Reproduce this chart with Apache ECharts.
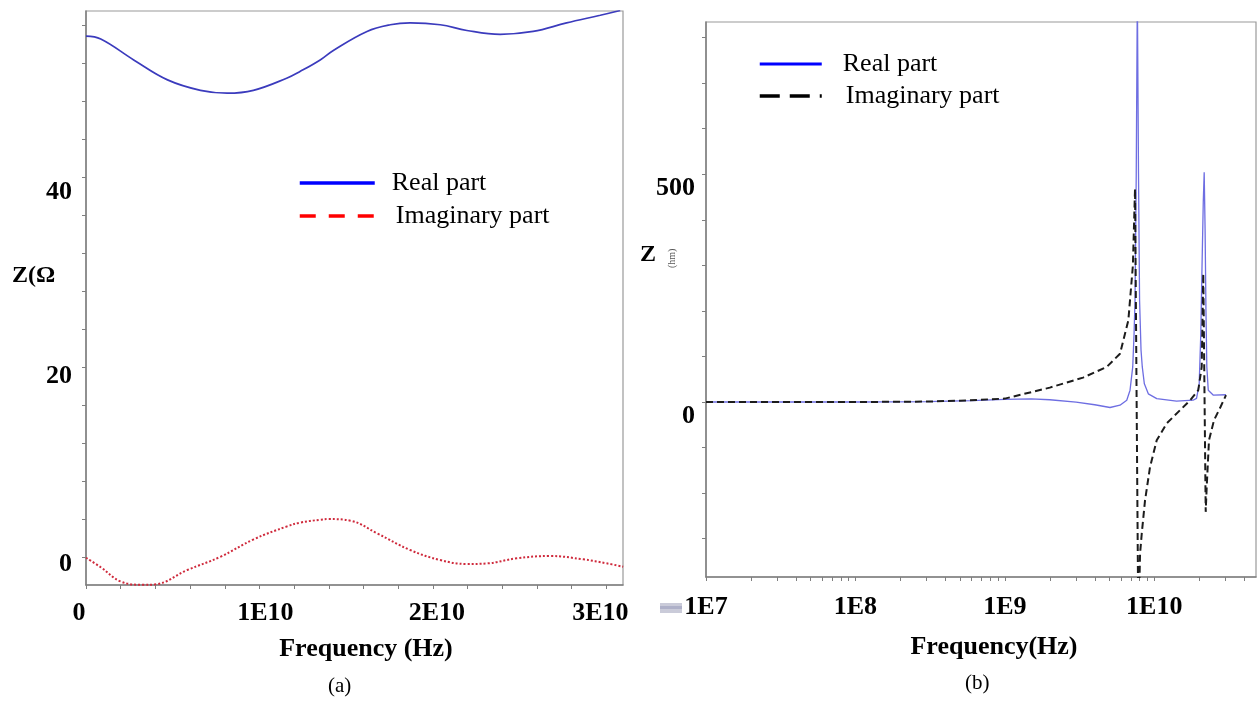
<!DOCTYPE html>
<html>
<head>
<meta charset="utf-8">
<script src="https://cdn.jsdelivr.net/npm/echarts@6/dist/echarts.min.js"></script>
<style>
  html, body { margin: 0; padding: 0; background: #fff; }
  #chart { width: 1257px; height: 702px; }
</style>
</head>
<body>
<div id="chart"></div>
<script>
// ---- (a) linear frequency sweep, values in Ohm ----
const leftFreqGHz = [0, 0.85, 2.75, 4.7, 6.6, 8.14, 9.65, 11.6, 12.36, 13.5, 14.26, 16.2, 17.54, 18.69, 20.42, 21.96, 23.88, 25.78, 27.71, 29.65, 30.8];
const leftReal    = [54.9, 54.6, 52.4, 50.3, 49.2, 48.9, 49.2, 50.5, 51.2, 52.4, 53.4, 55.4, 56.1, 56.3, 56.1, 55.5, 55.1, 55.4, 56.3, 57.1, 57.6];
const leftImagFreqGHz = [0, 0.85, 2.0, 3.3, 4.0, 5.84, 7.75, 9.67, 11.59, 12.36, 13.5, 13.99, 15.24, 16.78, 18.69, 20.42, 21.96, 23.11, 24.84, 26.75, 28.67, 30.02, 30.97];
const leftImag        = [0, -1.0, -2.5, -2.85, -2.8, -1.29, 0.1, 1.94, 3.3, 3.7, 4.0, 4.07, 3.9, 2.57, 0.81, -0.24, -0.66, -0.6, -0.06, 0.18, -0.17, -0.59, -0.95];

// ---- (b) logarithmic frequency sweep, values in Ohm ----
const rightRealFreq = [1e7, 1e8, 3e8, 6e8, 1e9, 1.5e9, 2e9, 3e9, 4e9, 5.06e9, 5.9e9, 6.55e9, 6.89e9, 7.18e9, 7.33e9, 7.44e9, 7.58e9, 7.71e9, 7.85e9, 7.98e9, 8.16e9, 8.32e9, 8.59e9, 9.13e9, 1.04e10, 1.41e10, 1.82e10, 1.92e10, 2.0e10, 2.05e10, 2.09e10, 2.13e10, 2.16e10, 2.19e10, 2.22e10, 2.25e10, 2.3e10, 2.49e10, 3.02e10];
const rightReal     = [0, 0, 1, 3, 6, 7, 5, 0, -6, -12, -7, 4, 26, 77, 150, 223, 500, 900, 500, 223, 114, 77, 40, 18, 7.5, 2, 4, 8, 40, 150, 300, 440, 504, 380, 200, 77, 26, 15, 16];
const rightImagFreq = [1e7, 1e8, 3e8, 5e8, 1e9, 2e9, 3.34e9, 4.81e9, 5.9e9, 6.71e9, 7.2e9, 7.44e9, 7.83e9, 8.04e9, 8.25e9, 8.68e9, 9.37e9, 1.039e10, 1.212e10, 1.488e10, 1.74e10, 1.972e10, 2.079e10, 2.13e10, 2.211e10, 2.245e10, 2.326e10, 2.512e10, 2.777e10, 3.022e10];
const rightImag     = [0, 0, 1, 3, 7.5, 31.6, 53.6, 77, 106, 179, 300, 468, -500, -333, -289, -216, -143, -84, -47, -18, 4, 26, 77, 282, -241, -187, -84, -40, -11, 15];

// ---- tick values ----
const leftXLabels  = [0, 1e10, 2e10, 3e10];
const leftYLabels  = [0, 20, 40];
const rightXLabels = [1e7, 1e8, 1e9, 1e10];
const rightYLabels = [0, 500];

const serif = '"Liberation Serif", "Times New Roman", serif';

const leftXTicks = [];
for (let v = 0; v <= 3.0e10 + 1; v += 2e9) leftXTicks.push(v);
const leftYTicks = [];
for (let v = 0; v <= 56; v += 4) leftYTicks.push(v);
const rightXTicks = [];
for (let d = 7; d <= 10; d++) for (let k = 1; k <= 9; k++) {
  const v = k * Math.pow(10, d);
  if (v <= 4.8e10) rightXTicks.push(v);
}
const rightYTicks = [];
for (let v = -300; v <= 800; v += 100) rightYTicks.push(v);

const pair = (xs, ys, scale) => xs.map((x, i) => [x * scale, ys[i]]);

const axisGray = '#7f7f7f';
const labelBase = { fontFamily: serif, fontWeight: 'bold', fontSize: 26, color: '#000' };
const withPad = p => Object.assign({}, labelBase, { padding: p });

const chart = echarts.init(document.getElementById('chart'), null, { renderer: 'canvas' });

chart.setOption({
  backgroundColor: '#fff',
  animation: false,
  grid: [
    { left: 86, top: 11, width: 537, height: 574, show: true, borderColor: '#9a9a9a', borderWidth: 1.2, backgroundColor: 'transparent' },
    { left: 706, top: 22, width: 550, height: 555, show: true, borderColor: '#9a9a9a', borderWidth: 1.2, backgroundColor: 'transparent' }
  ],
  xAxis: [
    {
      gridIndex: 0, type: 'value', min: 0, max: 3.096e10,
      splitLine: { show: false },
      axisLine: { onZero: false, lineStyle: { color: axisGray, width: 1.5 } },
      axisTick: { customValues: leftXTicks, length: 4, lineStyle: { color: axisGray } },
      axisLabel: {
        customValues: leftXLabels, margin: 15,
        formatter: v => {
          const key = Math.round(v / 1e10);
          const txt = key === 0 ? '0' : key + 'E10';
          return '{s' + key + '|' + txt + '}';
        },
        rich: {
          s0: withPad([0, 14, 0, 0]),
          s1: withPad([0, 0, 0, 12]),
          s2: withPad([0, 0, 0, 8]),
          s3: withPad([0, 12, 0, 0])
        }
      },
      name: 'Frequency (Hz)', nameLocation: 'middle', nameGap: 51,
      nameTextStyle: { fontFamily: serif, fontWeight: 'bold', fontSize: 26, color: '#000', padding: [0, 0, 0, 23] }
    },
    {
      gridIndex: 1, type: 'log', logBase: 10, min: 1e7, max: 4.8e10,
      splitLine: { show: false },
      axisLine: { onZero: false, lineStyle: { color: axisGray, width: 1.5 } },
      axisTick: { customValues: rightXTicks, length: 4, lineStyle: { color: axisGray } },
      axisLabel: {
        customValues: rightXLabels, margin: 17,
        formatter: v => '1E' + Math.round(Math.log10(v)),
        fontFamily: serif, fontWeight: 'bold', fontSize: 26, color: '#000'
      },
      name: 'Frequency(Hz)', nameLocation: 'middle', nameGap: 57,
      nameTextStyle: { fontFamily: serif, fontWeight: 'bold', fontSize: 26, color: '#000', padding: [0, 0, 0, 26] }
    }
  ],
  yAxis: [
    {
      gridIndex: 0, type: 'value', min: -2.87, max: 57.55,
      splitLine: { show: false },
      axisLine: { show: true, onZero: false, lineStyle: { color: axisGray, width: 1.5 } },
      axisTick: { show: true, customValues: leftYTicks, length: 4, lineStyle: { color: axisGray } },
      axisLabel: {
        customValues: leftYLabels, margin: 14,
        formatter: v => '{y' + v + '|' + v + '}',
        rich: {
          y0: withPad([14, 0, 0, 0]),
          y20: withPad([18, 0, 0, 0]),
          y40: withPad([30, 0, 0, 0])
        }
      }
    },
    {
      gridIndex: 1, type: 'value', min: -384, max: 834,
      splitLine: { show: false },
      axisLine: { show: true, onZero: false, lineStyle: { color: axisGray, width: 1.5 } },
      axisTick: { show: true, customValues: rightYTicks, length: 4, lineStyle: { color: axisGray } },
      axisLabel: {
        customValues: rightYLabels, margin: 11,
        formatter: v => '{r|' + v + '}',
        rich: { r: withPad([28, 0, 0, 0]) }
      }
    }
  ],
  legend: [
    {
      left: 293, top: 163, orient: 'vertical', selectedMode: false,
      itemWidth: 75, itemHeight: 14, itemGap: 3,
      textStyle: { fontFamily: serif, fontSize: 26, color: '#000', lineHeight: 30 },
      data: [
        { name: 'Real part', itemStyle: { opacity: 0 }, lineStyle: { color: '#0000ff', width: 3.5, type: 'solid' }, textStyle: { padding: [0, 0, 0, 12] } },
        { name: 'Imaginary part', itemStyle: { opacity: 0 }, lineStyle: { color: '#ff0000', width: 3.5, type: [16, 13] }, textStyle: { padding: [0, 0, 0, 16] } }
      ]
    },
    {
      left: 753, top: 44, orient: 'vertical', selectedMode: false,
      itemWidth: 62, itemHeight: 14, itemGap: 2,
      textStyle: { fontFamily: serif, fontSize: 26, color: '#000', lineHeight: 30 },
      data: [
        { name: 'Real part', itemStyle: { opacity: 0 }, lineStyle: { color: '#0000ff', width: 3, type: 'solid' }, textStyle: { padding: [0, 0, 0, 16] } },
        { name: 'Imaginary part', itemStyle: { opacity: 0 }, lineStyle: { color: '#000000', width: 3.5, type: [20, 10] }, textStyle: { padding: [0, 0, 0, 19] } }
      ]
    }
  ],
  series: [
    {
      name: 'Real part', type: 'line', xAxisIndex: 0, yAxisIndex: 0,
      data: pair(leftFreqGHz, leftReal, 1e9), smooth: 0.4, symbol: 'none',
      lineStyle: { color: '#3b3bbd', width: 1.7 }, itemStyle: { color: '#3b3bbd' }
    },
    {
      name: 'Imaginary part', type: 'line', xAxisIndex: 0, yAxisIndex: 0,
      data: pair(leftImagFreqGHz, leftImag, 1e9), smooth: 0.4, symbol: 'none',
      lineStyle: { color: '#cf2a3c', width: 2, type: [2, 2] }, itemStyle: { color: '#cf2a3c' }
    },
    {
      name: 'Real part', type: 'line', xAxisIndex: 1, yAxisIndex: 1,
      data: pair(rightRealFreq, rightReal, 1), symbol: 'none',
      lineStyle: { color: '#6e6ee2', width: 1.3 }, itemStyle: { color: '#6e6ee2' }
    },
    {
      name: 'Imaginary part', type: 'line', xAxisIndex: 1, yAxisIndex: 1,
      data: pair(rightImagFreq, rightImag, 1), symbol: 'none',
      lineStyle: { color: '#1c1c1c', width: 2, type: [7, 4] }, itemStyle: { color: '#1c1c1c' }
    }
  ],
  graphic: [
    { type: 'text', left: 12, top: 264, style: { text: 'Z(Ω', font: 'bold 24px ' + serif, fill: '#000' } },
    { type: 'text', left: 640, top: 243, style: { text: 'Z', font: 'bold 24px ' + serif, fill: '#000' } },
    { type: 'text', x: 667, y: 268, rotation: Math.PI / 2, style: { text: '(hm)', font: '10px ' + serif, fill: '#555' } },
    { type: 'rect', shape: { x: 660, y: 603, width: 22, height: 10 }, style: { fill: '#cacbd9' } },
    { type: 'rect', shape: { x: 660, y: 606, width: 22, height: 3 }, style: { fill: '#aeb0c8' } },
    { type: 'text', left: 328, top: 676, style: { text: '(a)', font: '21px ' + serif, fill: '#000' } },
    { type: 'text', left: 965, top: 673, style: { text: '(b)', font: '21px ' + serif, fill: '#000' } }
  ]
});
</script>
</body>
</html>
